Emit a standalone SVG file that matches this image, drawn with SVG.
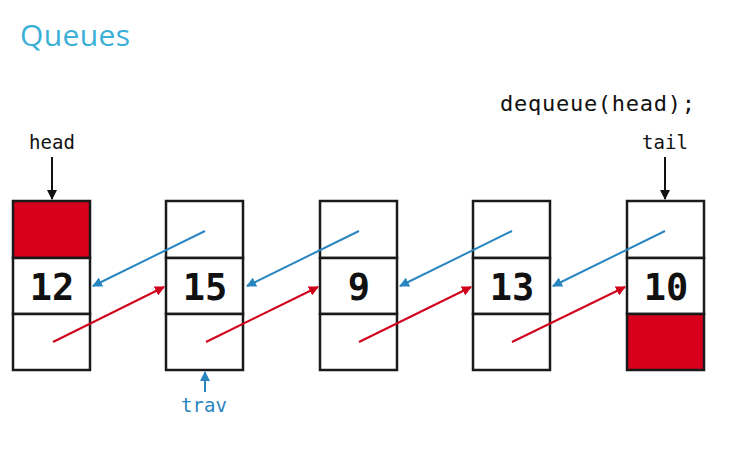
<svg xmlns="http://www.w3.org/2000/svg" width="745" height="455" viewBox="0 0 745 455">
<defs>
<style>
.box{fill:#fff;stroke:#1a1a1a;stroke-width:2.5}
.red{fill:#d6001c;stroke:#1a1a1a;stroke-width:2.5}
.num{font-family:"DejaVu Sans Mono",monospace;font-weight:bold;font-size:37px;fill:#111;text-anchor:middle}
.code{font-family:"DejaVu Sans Mono",monospace;fill:#111}
.trav{font-family:"DejaVu Sans Mono",monospace;fill:#2a86c0}
.bl{stroke:#2a86c0;stroke-width:2;fill:none}
.rd{stroke:#d0021b;stroke-width:2;fill:none}
.bk{stroke:#111;stroke-width:2;fill:none}
</style>
<marker id="ab" viewBox="0 0 10 10" refX="9" refY="5" markerWidth="5" markerHeight="5" orient="auto"><path d="M0,0 L10,5 L0,10 z" fill="#2a86c0"/></marker>
<marker id="ar" viewBox="0 0 10 10" refX="9" refY="5" markerWidth="5" markerHeight="5" orient="auto"><path d="M0,0 L10,5 L0,10 z" fill="#d0021b"/></marker>
<marker id="ak" viewBox="0 0 10 10" refX="9" refY="5" markerWidth="5" markerHeight="5" orient="auto"><path d="M0,0 L10,5 L0,10 z" fill="#111"/></marker>
</defs>
<rect width="745" height="455" fill="#fff"/>
<text x="20" y="46" font-family="'Open Sans',sans-serif" font-size="30" fill="#3ab0d6" textLength="110">Queues</text>
<text class="code" x="500" y="111" font-size="22" textLength="195">dequeue(head);</text>

<g id="node1">
<rect class="red" x="13" y="201" width="77" height="57"/>
<rect class="box" x="13" y="258" width="77" height="56"/>
<rect class="box" x="13" y="314" width="77" height="56"/>
<text class="num" x="52" y="300">12</text>
</g>
<g id="node2">
<rect class="box" x="166" y="201" width="77" height="57"/>
<rect class="box" x="166" y="258" width="77" height="56"/>
<rect class="box" x="166" y="314" width="77" height="56"/>
<text class="num" x="205" y="300">15</text>
</g>
<g id="node3">
<rect class="box" x="320" y="201" width="77" height="57"/>
<rect class="box" x="320" y="258" width="77" height="56"/>
<rect class="box" x="320" y="314" width="77" height="56"/>
<text class="num" x="359" y="300">9</text>
</g>
<g id="node4">
<rect class="box" x="473" y="201" width="77" height="57"/>
<rect class="box" x="473" y="258" width="77" height="56"/>
<rect class="box" x="473" y="314" width="77" height="56"/>
<text class="num" x="512" y="300">13</text>
</g>
<g id="node5">
<rect class="box" x="627" y="201" width="77" height="57"/>
<rect class="box" x="627" y="258" width="77" height="56"/>
<rect class="red" x="627" y="314" width="77" height="56"/>
<text class="num" x="666" y="300">10</text>
</g>

<g id="head">
<text class="code" x="52" y="149" font-size="19" text-anchor="middle">head</text>
</g>
<g id="tail">
<text class="code" x="665" y="149" font-size="19" text-anchor="middle">tail</text>
</g>
<g id="trav">
<text class="trav" x="204" y="412" font-size="19" text-anchor="middle">trav</text>
</g>

<g id="connectors">
<line class="bk" x1="52" y1="157" x2="52" y2="199" marker-end="url(#ak)"/>
<line class="bk" x1="665" y1="157" x2="665" y2="199" marker-end="url(#ak)"/>
<line class="bl" x1="205" y1="392" x2="205" y2="372" marker-end="url(#ab)"/>
<line class="bl" x1="205" y1="231" x2="93" y2="286" marker-end="url(#ab)"/>
<line class="bl" x1="359" y1="231" x2="247" y2="286" marker-end="url(#ab)"/>
<line class="bl" x1="512" y1="231" x2="400" y2="286" marker-end="url(#ab)"/>
<line class="bl" x1="665" y1="231" x2="553" y2="286" marker-end="url(#ab)"/>
<line class="rd" x1="53" y1="342" x2="164" y2="287" marker-end="url(#ar)"/>
<line class="rd" x1="206" y1="342" x2="318" y2="287" marker-end="url(#ar)"/>
<line class="rd" x1="359" y1="342" x2="471" y2="287" marker-end="url(#ar)"/>
<line class="rd" x1="512" y1="342" x2="625" y2="287" marker-end="url(#ar)"/>
</g>
</svg>
